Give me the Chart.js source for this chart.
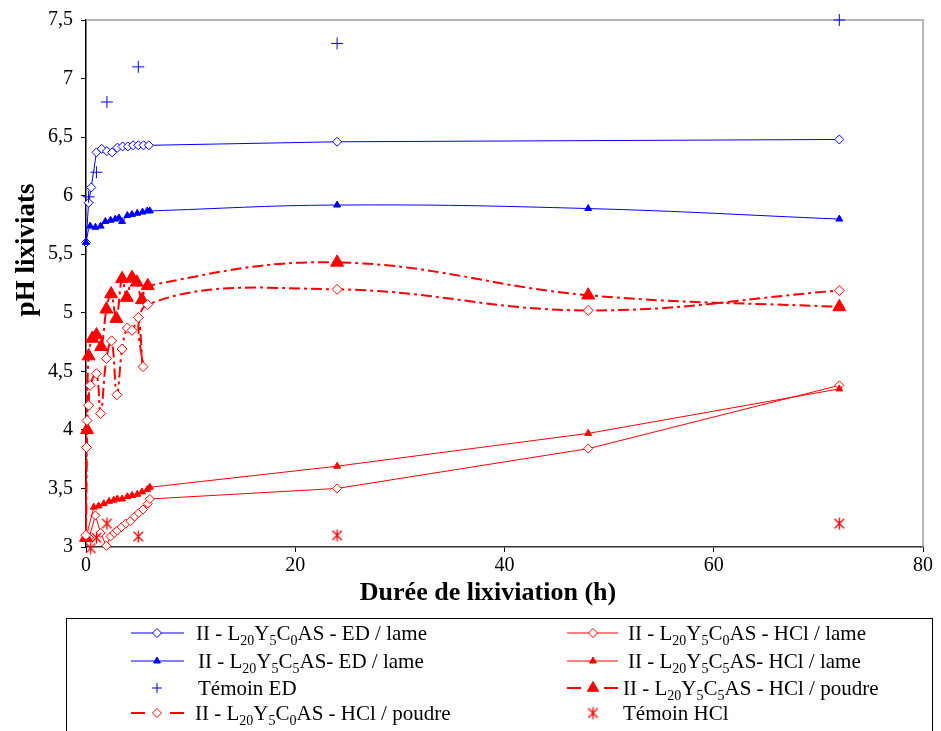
<!DOCTYPE html>
<html><head><meta charset="utf-8">
<script src="https://cdn.jsdelivr.net/npm/chart.js@4.4.1/dist/chart.umd.min.js"></script>
<style>html,body{margin:0;padding:0;background:#fff;}#wrap{width:941px;height:731px;position:relative;overflow:hidden;}</style>
</head><body><div id="wrap"><canvas id="c" width="941" height="731" style="width:941px;height:731px"></canvas></div>
<script>
// ---------- DATA ----------
const xTicks = [0, 20, 40, 60, 80];
const yTicks = [3, 3.5, 4, 4.5, 5, 5.5, 6, 6.5, 7, 7.5];

const seriesNames = [
  "II - L_{20}Y_{5}C_{0}AS - ED / lame",
  "II - L_{20}Y_{5}C_{0}AS - HCl / lame",
  "II - L_{20}Y_{5}C_{5}AS- ED / lame",
  "II - L_{20}Y_{5}C_{5}AS- HCl / lame",
  "Témoin ED",
  "II - L_{20}Y_{5}C_{5}AS - HCl / poudre",
  "II - L_{20}Y_{5}C_{0}AS - HCl / poudre",
  "Témoin HCl"
];

const t_ED_C0_lame  = [0, 0.25, 0.5, 1, 1.5, 2, 2.5, 3, 3.5, 4, 4.5, 5, 5.5, 6, 24, 72];
const pH_ED_C0_lame = [5.60, 5.94, 6.07, 6.37, 6.40, 6.38, 6.37, 6.41, 6.42, 6.42, 6.43, 6.43, 6.43, 6.43, 6.46, 6.48];

const t_HCl_C0_lame  = [0, 0.3, 0.9, 1.4, 1.95, 2.35, 2.7, 3.0, 3.4, 3.8, 4.25, 4.65, 5.05, 5.45, 5.9, 6.1, 24, 48, 72];
const pH_HCl_C0_lame = [3.10, 3.08, 3.27, 3.12, 3.01, 3.09, 3.12, 3.14, 3.17, 3.20, 3.22, 3.26, 3.29, 3.32, 3.37, 3.41, 3.50, 3.84, 4.38];

const t_ED_C5_lame  = [0, 0.4, 0.9, 1.4, 1.85, 2.35, 2.8, 3.15, 3.45, 3.95, 4.4, 4.9, 5.4, 5.85, 6.1, 24, 48, 72];
const pH_ED_C5_lame = [5.60, 5.74, 5.73, 5.74, 5.78, 5.79, 5.80, 5.81, 5.78, 5.83, 5.84, 5.85, 5.86, 5.87, 5.87, 5.92, 5.89, 5.80];

const t_HCl_C5_lame  = [0, 0.75, 1.2, 1.7, 2.2, 2.65, 3.0, 3.45, 3.95, 4.4, 4.9, 5.35, 5.85, 6.1, 24, 48, 72];
const pH_HCl_C5_lame = [3.08, 3.34, 3.35, 3.37, 3.39, 3.40, 3.41, 3.41, 3.43, 3.44, 3.45, 3.47, 3.49, 3.51, 3.69, 3.97, 4.35];

const t_temoin_ED  = [0.25, 1, 2, 5, 24, 72];
const pH_temoin_ED = [5.99, 6.20, 6.80, 7.10, 7.30, 7.50];

const t_HCl_C5_poudre  = [0, 0.1, 0.25, 0.6, 1, 1.45, 1.95, 2.4, 2.9, 3.45, 3.9, 4.4, 4.85, 5.35, 5.9, 24, 48, 72];
const pH_HCl_C5_poudre = [3.08, 4.00, 4.63, 4.78, 4.81, 4.71, 5.03, 5.16, 4.95, 5.29, 5.13, 5.30, 5.26, 5.11, 5.23, 5.43, 5.15, 5.05];

const t_HCl_C0_poudre  = [0, 0.05, 0.1, 0.25, 0.4, 1, 1.4, 1.95, 2.45, 2.95, 3.45, 3.95, 4.4, 5.0, 5.45, 5.9, 24, 48, 72];
const pH_HCl_C0_poudre = [3.10, 3.85, 4.08, 4.21, 4.38, 4.48, 4.14, 4.61, 4.76, 4.30, 4.69, 4.87, 4.85, 4.96, 4.54, 5.07, 5.20, 5.02, 5.19];

const t_temoin_HCl  = [0.45, 1, 2, 5, 24, 72];
const pH_temoin_HCl = [2.99, 3.08, 3.20, 3.09, 3.10, 3.20];

// ---------- STYLE ----------
const BLUE = '#0000ff', RED = '#ff0000';
const SERIF = '"Liberation Serif", "Times New Roman", serif';
const pts = (xs, ys) => xs.map((x, i) => ({x, y: ys[i]}));

// asterisk marker (X + vertical bar) for Témoin HCl
function makeAsterisk(color, size) {
  const c = document.createElement('canvas');
  c.width = size; c.height = size;
  const g = c.getContext('2d');
  g.strokeStyle = color; g.lineWidth = 1.3;
  const h = size / 2, r = size / 2 - 0.5;
  g.beginPath();
  g.moveTo(h - r * 0.8, h - r * 0.8); g.lineTo(h + r * 0.8, h + r * 0.8);
  g.moveTo(h + r * 0.8, h - r * 0.8); g.lineTo(h - r * 0.8, h + r * 0.8);
  g.moveTo(h, h - r); g.lineTo(h, h + r);
  g.stroke();
  return c;
}
const asterisk = makeAsterisk(RED, 13);

const POUDRE_DASH = [11, 4, 3, 4];

const datasets = [
  { data: pts(t_ED_C0_lame, pH_ED_C0_lame), borderColor: BLUE, borderWidth: 1, tension: 0,
    pointStyle: 'rectRot', pointRadius: 4.5, pointBackgroundColor: '#fff', pointBorderColor: BLUE, pointBorderWidth: 1 },
  { data: pts(t_HCl_C0_lame, pH_HCl_C0_lame), borderColor: RED, borderWidth: 1, tension: 0,
    pointStyle: 'rectRot', pointRadius: 4.5, pointBackgroundColor: '#fff', pointBorderColor: RED, pointBorderWidth: 1 },
  { data: pts(t_ED_C5_lame, pH_ED_C5_lame), borderColor: BLUE, borderWidth: 1, tension: 0.4,
    pointStyle: 'triangle', pointRadius: 4, pointBackgroundColor: BLUE, pointBorderColor: BLUE, pointBorderWidth: 1 },
  { data: pts(t_HCl_C5_lame, pH_HCl_C5_lame), borderColor: RED, borderWidth: 1, tension: 0,
    pointStyle: 'triangle', pointRadius: 4, pointBackgroundColor: RED, pointBorderColor: RED, pointBorderWidth: 1 },
  { data: pts(t_temoin_ED, pH_temoin_ED), showLine: false, borderColor: BLUE, borderWidth: 1,
    pointStyle: 'cross', pointRadius: 6, pointBackgroundColor: BLUE, pointBorderColor: BLUE, pointBorderWidth: 1 },
  { data: pts(t_HCl_C5_poudre, pH_HCl_C5_poudre), borderColor: RED, borderWidth: 2, borderDash: POUDRE_DASH, tension: 0.4,
    pointStyle: 'triangle', pointRadius: 7.5, pointBackgroundColor: RED, pointBorderColor: RED, pointBorderWidth: 1, dashedLegend: true },
  { data: pts(t_HCl_C0_poudre, pH_HCl_C0_poudre), borderColor: RED, borderWidth: 2, borderDash: POUDRE_DASH, tension: 0.4,
    pointStyle: 'rectRot', pointRadius: 5, pointBackgroundColor: '#fff', pointBorderColor: RED, pointBorderWidth: 1, dashedLegend: true },
  { data: pts(t_temoin_HCl, pH_temoin_HCl), showLine: false, borderColor: RED, borderWidth: 1,
    pointStyle: asterisk, pointRadius: 6, pointBackgroundColor: RED, pointBorderColor: RED, pointBorderWidth: 1 }
];
datasets.forEach((d, i) => { d.label = seriesNames[i]; d.clip = false; d.fill = false; d.order = datasets.length - i; });

function drawRich(ctx, str, x, y, size) {
  const parts = str.split(/(_\{[^}]*\})/);
  for (const p of parts) {
    if (!p) continue;
    if (p.startsWith('_{')) {
      const t = p.slice(2, -1);
      ctx.font = Math.round(size * 0.66) + 'px ' + SERIF;
      ctx.fillText(t, x, y + size * 0.22);
      x += ctx.measureText(t).width;
    } else {
      ctx.font = size + 'px ' + SERIF;
      ctx.fillText(p, x, y);
      x += ctx.measureText(p).width;
    }
  }
}

const overlay = {
  id: 'overlay',
  beforeDatasetsDraw(chart) {
    const ctx = chart.ctx, a = chart.chartArea;
    ctx.save();
    ctx.strokeStyle = '#a0a0a0'; ctx.lineWidth = 1.5;
    ctx.beginPath();
    ctx.moveTo(a.left, a.top); ctx.lineTo(a.right, a.top); ctx.lineTo(a.right, a.bottom);
    ctx.stroke();
    ctx.restore();
  },
  afterDraw(chart) {
    const ctx = chart.ctx, a = chart.chartArea;
    ctx.save();
    // axis titles
    ctx.fillStyle = '#000';
    ctx.font = 'bold 26px ' + SERIF;
    ctx.textAlign = 'center'; ctx.textBaseline = 'middle';
    ctx.fillText('Durée de lixiviation (h)', 488, 593);
    ctx.save();
    ctx.translate(27, 250); ctx.rotate(-Math.PI / 2);
    ctx.font = 'bold 27px ' + SERIF;
    ctx.fillText('pH lixiviats', 0, 0);
    ctx.restore();

    // legend box
    ctx.strokeStyle = '#000'; ctx.lineWidth = 1;
    ctx.strokeRect(66.5, 618.5, 866, 140);

    const cols = [
      { x0: 131, x1: 184, xm: 157, xt: [196, 198, 198, 195] },
      { x0: 567, x1: 618, xm: 593, xt: [628, 628, 623, 623] }
    ];
    const rows = [633, 661, 688, 713];
    ctx.textAlign = 'left'; ctx.textBaseline = 'alphabetic';
    chart.data.datasets.forEach((d, i) => {
      const c = cols[i % 2], ri = Math.floor(i / 2), y = rows[ri];
      ctx.save();
      ctx.strokeStyle = d.borderColor;
      if (d.showLine !== false) {
        ctx.lineWidth = d.borderWidth;
        ctx.beginPath();
        if (d.dashedLegend) {
          ctx.moveTo(c.x0, y); ctx.lineTo(c.x0 + 14, y);
          ctx.moveTo(c.x1 - 14, y); ctx.lineTo(c.x1, y);
        } else {
          ctx.moveTo(c.x0, y); ctx.lineTo(c.x1, y);
        }
        ctx.stroke();
      }
      ctx.fillStyle = d.pointBackgroundColor;
      ctx.strokeStyle = d.pointBorderColor;
      ctx.lineWidth = d.pointBorderWidth;
      const r = d.pointStyle === 'triangle' ? (d.pointRadius > 5 ? 6.5 : 4) : (d.pointRadius > 5 && d.pointStyle === 'cross' ? 5 : 4.5);
      Chart.helpers.drawPoint(ctx, { pointStyle: d.pointStyle, radius: r, rotation: 0, borderWidth: d.pointBorderWidth }, c.xm, y);
      ctx.restore();
      ctx.fillStyle = '#000';
      drawRich(ctx, d.label, c.xt[ri], y + 7, 21);
    });
    ctx.restore();
  }
};

const tickFont = { family: SERIF, size: 20 };
new Chart(document.getElementById('c'), {
  type: 'line',
  data: { datasets },
  options: {
    responsive: false,
    animation: false,
    events: [],
    layout: { padding: { left: 0, top: 19, right: 18, bottom: 121 } },
    plugins: { legend: { display: false }, tooltip: { enabled: false } },
    scales: {
      x: {
        type: 'linear', min: xTicks[0], max: xTicks[xTicks.length - 1],
        afterBuildTicks: s => { s.ticks = xTicks.map(v => ({ value: v })); },
        ticks: { font: tickFont, color: '#000', padding: 2, maxRotation: 0 },
        grid: { drawOnChartArea: false, drawTicks: true, tickLength: 5, tickColor: '#000' },
        border: { display: true, color: '#333', width: 1.5 },
        afterFit: s => { s.height = 63; }
      },
      y: {
        type: 'linear', min: yTicks[0], max: yTicks[yTicks.length - 1],
        afterBuildTicks: s => { s.ticks = yTicks.map(v => ({ value: v })); },
        ticks: { font: tickFont, color: '#000', padding: 8, callback: v => String(v).replace('.', ',') },
        grid: { drawOnChartArea: false, drawTicks: true, tickLength: 5, tickColor: '#000' },
        border: { display: true, color: '#000', width: 1.5 },
        afterFit: s => { s.width = 86; }
      }
    }
  },
  plugins: [overlay]
});
</script>
</body></html>
